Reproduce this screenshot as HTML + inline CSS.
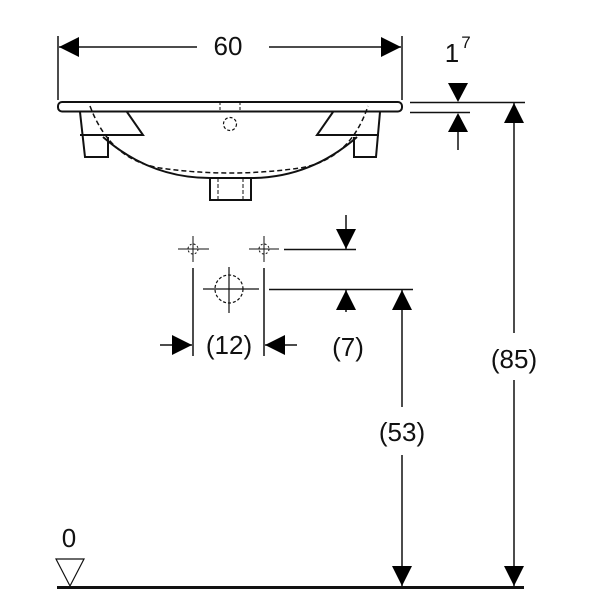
<!DOCTYPE html>
<html><head><style>body{margin:0;background:#fff}svg{display:block}text{font-family:"Liberation Sans",sans-serif;fill:#111}</style></head>
<body>
<svg width="600" height="600" viewBox="0 0 600 600" xmlns="http://www.w3.org/2000/svg">
<defs>
<marker id="a" viewBox="0 0 10 10" refX="10" refY="5" markerWidth="20" markerHeight="20" markerUnits="userSpaceOnUse" orient="auto"><path d="M0,0L10,5L0,10z" fill="#000"/></marker>
</defs>
<g stroke="#111" stroke-width="1.5" fill="none">
<line x1="58" y1="36" x2="58" y2="100"/><line x1="402" y1="36" x2="402" y2="100"/>
<line x1="197" y1="47" x2="59" y2="47" marker-end="url(#a)"/>
<line x1="269" y1="47" x2="401" y2="47" marker-end="url(#a)"/>
<rect x="58" y="102" width="344" height="9.5" rx="4" stroke-width="2"/>
<path d="M80,112 L85,157 L108,157 L108,137" stroke-width="2"/>
<path d="M380,112 L376,157 L354,157 L354,137" stroke-width="2"/>
<path d="M103,135 L143,135 L127,112 M80,135 L103,135" stroke-width="2"/>
<path d="M357,135 L317,135 L333,112 M357,135 L379,135" stroke-width="2"/>
<path d="M103,137 Q150,178 210,178 L251,178 Q310,178 357,137" stroke-width="2"/>
<path d="M210,178 L210,200 L251,200 L251,178" stroke-width="2"/>
<path d="M218,178 L218,200 M243,178 L243,200" stroke-dasharray="4,2" stroke-width="1"/>
<path d="M90,106 Q110,160 160,168 Q230,178 300,168 Q350,160 368,106" stroke-dasharray="5,3" stroke-width="1.5"/>
<path d="M220,102 L220,111 M240,102 L240,111" stroke-dasharray="3,2" stroke-width="1"/>
<circle cx="230" cy="124" r="6.5" stroke-dasharray="3,2" stroke-width="1.2"/>
<line x1="410" y1="102.5" x2="525" y2="102.5"/>
<line x1="410" y1="112.5" x2="470" y2="112.5"/>
<path d="M448,83 L468,83 L458,102z" fill="#000" stroke="none"/>
<path d="M448,132 L468,132 L458,113z" fill="#000" stroke="none"/>
<line x1="458" y1="132" x2="458" y2="150"/>
<line x1="514" y1="333" x2="514" y2="103" marker-end="url(#a)"/>
<line x1="514" y1="380" x2="514" y2="586" marker-end="url(#a)"/>
<line x1="402" y1="407" x2="402" y2="290" marker-end="url(#a)"/>
<line x1="402" y1="455" x2="402" y2="586" marker-end="url(#a)"/>
<line x1="57" y1="587.5" x2="524" y2="587.5" stroke-width="3"/>
<path d="M56,559 L84,559 L70,586z" stroke-width="1.2"/>
<path d="M178,249 L209,249 M193,236 L193,262 M249,249 L279,249 M264,236 L264,262" stroke-width="1"/>
<circle cx="193" cy="249" r="5" stroke-dasharray="2,2" stroke-width="1"/>
<circle cx="264" cy="249" r="5" stroke-dasharray="2,2" stroke-width="1"/>
<path d="M203,289 L259,289 M229,267 L229,313" stroke-width="1.2"/>
<circle cx="229" cy="289" r="14" stroke-dasharray="3,2" stroke-width="1.2"/>
<line x1="193" y1="268" x2="193" y2="356"/><line x1="264" y1="268" x2="264" y2="356"/>
<line x1="284" y1="249.5" x2="356" y2="249.5"/>
<line x1="269" y1="289.5" x2="413" y2="289.5"/>
<line x1="346" y1="215" x2="346" y2="249" marker-end="url(#a)"/>
<line x1="346" y1="312" x2="346" y2="290" marker-end="url(#a)"/>
<line x1="160" y1="345" x2="192" y2="345" marker-end="url(#a)"/>
<line x1="297" y1="345" x2="265" y2="345" marker-end="url(#a)"/>
</g>
<g font-size="26" text-anchor="middle">
<text x="228" y="55">60</text>
<text x="452" y="62">1</text><text x="466" y="48" font-size="17">7</text>
<text x="514" y="368">(85)</text>
<text x="402" y="441">(53)</text>
<text x="229" y="354">(12)</text>
<text x="348" y="356">(7)</text>
<text x="69" y="547">0</text>
</g>
</svg>
</body></html>
